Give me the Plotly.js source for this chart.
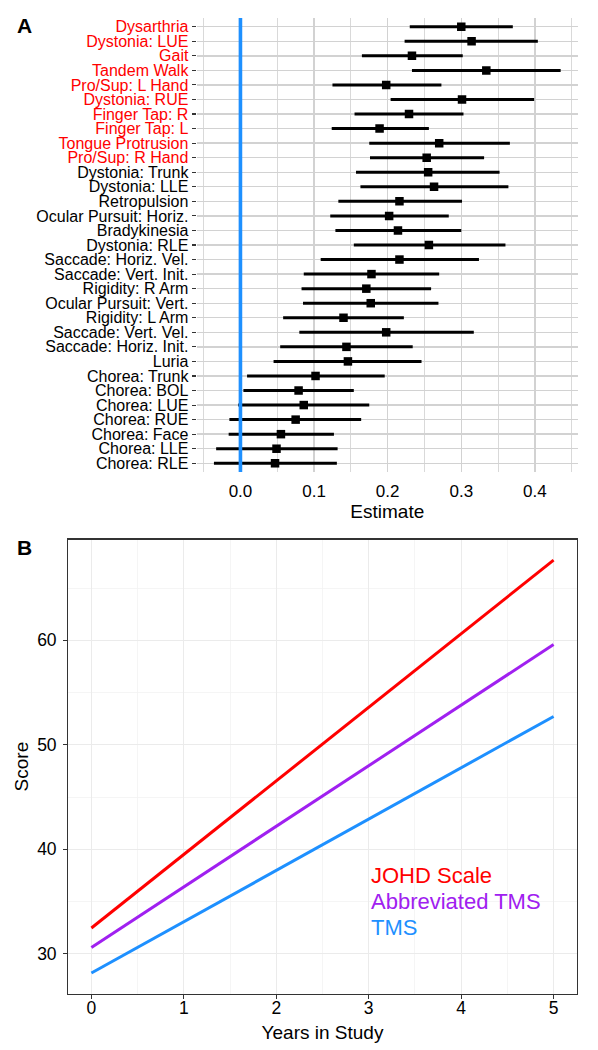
<!DOCTYPE html>
<html>
<head>
<meta charset="utf-8">
<script src="https://cdn.plot.ly/plotly-3.0.1.min.js"></script>
<style>
  html, body { margin: 0; padding: 0; background: #fff; }
  #chart { width: 598px; height: 1050px; }
</style>
</head>
<body>
<div id="chart"></div>
<script>
// ---------- Panel A data ----------
const items = [
  "Dysarthria", "Dystonia: LUE", "Gait", "Tandem Walk", "Pro/Sup: L Hand",
  "Dystonia: RUE", "Finger Tap: R", "Finger Tap: L", "Tongue Protrusion", "Pro/Sup: R Hand",
  "Dystonia: Trunk", "Dystonia: LLE", "Retropulsion", "Ocular Pursuit: Horiz.", "Bradykinesia",
  "Dystonia: RLE", "Saccade: Horiz. Vel.", "Saccade: Vert. Init.", "Rigidity: R Arm", "Ocular Pursuit: Vert.",
  "Rigidity: L Arm", "Saccade: Vert. Vel.", "Saccade: Horiz. Init.", "Luria", "Chorea: Trunk",
  "Chorea: BOL", "Chorea: LUE", "Chorea: RUE", "Chorea: Face", "Chorea: LLE", "Chorea: RLE"
];
const estimate = [
  0.300, 0.314, 0.233, 0.334, 0.198,
  0.301, 0.229, 0.189, 0.270, 0.253,
  0.255, 0.263, 0.216, 0.202, 0.214,
  0.256, 0.216, 0.178, 0.171, 0.177,
  0.140, 0.198, 0.144, 0.146, 0.102,
  0.079, 0.086, 0.075, 0.055, 0.049, 0.047
];
const lower = [
  0.230, 0.223, 0.165, 0.233, 0.125,
  0.204, 0.155, 0.124, 0.175, 0.176,
  0.157, 0.163, 0.133, 0.122, 0.129,
  0.154, 0.109, 0.086, 0.083, 0.085,
  0.058, 0.080, 0.054, 0.045, 0.009,
  0.004, -0.003, -0.015, -0.016, -0.033, -0.036
];
const upper = [
  0.370, 0.404, 0.302, 0.435, 0.273,
  0.399, 0.303, 0.256, 0.366, 0.331,
  0.352, 0.364, 0.301, 0.283, 0.300,
  0.360, 0.324, 0.270, 0.259, 0.269,
  0.222, 0.317, 0.234, 0.246, 0.196,
  0.154, 0.175, 0.164, 0.127, 0.132, 0.131
];
const highlighted = [
  true, true, true, true, true,
  true, true, true, true, true,
  false, false, false, false, false,
  false, false, false, false, false,
  false, false, false, false, false,
  false, false, false, false, false, false
];
const referenceValue = 0;
const estimateTicks = [0, 0.1, 0.2, 0.3, 0.4];

// ---------- Panel B data ----------
const years = [0, 5];
const seriesNames = ["JOHD Scale", "Abbreviated TMS", "TMS"];
const johdScore = [32.46, 67.67];
const abbrevTmsScore = [30.60, 59.59];
const tmsScore = [28.15, 52.71];
const scoreTicks = [30, 40, 50, 60];
const yearTicks = [0, 1, 2, 3, 4, 5];

// ---------- styling ----------
const FONT = '"Liberation Sans", Arial, Helvetica, sans-serif';
const RED = '#FF0000', PURPLE = '#A020F0', BLUE = '#1E90FF';
const W = 598, H = 1050;

const ticktextA = items.map((t, i) =>
  highlighted[i] ? '<span style="color:' + RED + '">' + t + '</span>' : t);

const lo = Math.min(...lower), hi = Math.max(...upper);
const padA = (hi - lo) * 0.05;

const traceA = {
  type: 'scatter', mode: 'markers',
  x: estimate, y: items,
  xaxis: 'x', yaxis: 'y',
  marker: { symbol: 'square', size: 8.5, color: '#000' },
  error_x: {
    type: 'data', symmetric: false,
    array: upper.map((u, i) => u - estimate[i]),
    arrayminus: estimate.map((e, i) => e - lower[i]),
    color: '#000', thickness: 3, width: 0
  },
  showlegend: false, hoverinfo: 'x+y'
};

const scoreSeries = [johdScore, abbrevTmsScore, tmsScore];
const colorsB = [RED, PURPLE, BLUE];
const tracesB = scoreSeries.map((s, i) => ({
  type: 'scatter', mode: 'lines',
  x: years, y: s, xaxis: 'x2', yaxis: 'y2',
  name: seriesNames[i],
  line: { color: colorsB[i], width: 3 },
  showlegend: false
}));

const allB = [].concat(...scoreSeries);
const loB = Math.min(...allB), hiB = Math.max(...allB);
const padB = (hiB - loB) * 0.05;

const layout = {
  width: W, height: H,
  margin: { l: 0, r: 0, t: 0, b: 0 },
  paper_bgcolor: '#fff', plot_bgcolor: '#fff',
  font: { family: FONT, color: '#000' },
  showlegend: false,
  xaxis: {
    domain: [196.6 / W, 578 / W],
    anchor: 'y',
    range: [lo - padA, hi + padA],
    tickvals: estimateTicks, tickformat: '.1f',
    ticks: '', showline: false, zeroline: false,
    ticklabelstandoff: 7,
    showgrid: true, gridcolor: '#d2d2d2', gridwidth: 1.4,
    minor: { dtick: 0.05, tick0: 0, showgrid: true, gridcolor: '#d9d9d9', gridwidth: 1.1, ticks: '' },
    tickfont: { size: 17, color: '#000' },
    title: { text: 'Estimate', font: { size: 19, color: '#000' }, standoff: 3 }
  },
  yaxis: {
    domain: [1 - 472 / H, 1 - 18 / H],
    anchor: 'x',
    type: 'category',
    categoryorder: 'array', categoryarray: items.slice().reverse(),
    range: [-0.6, items.length - 0.4],
    tickvals: items, ticktext: ticktextA,
    ticks: 'outside', ticklen: 4, tickwidth: 1.1, tickcolor: '#333',
    showline: false, zeroline: false,
    showgrid: true, gridcolor: '#d2d2d2', gridwidth: 1.4,
    tickfont: { size: 16, color: '#000' }
  },
  xaxis2: {
    domain: [68.3 / W, 576.7 / W],
    anchor: 'y2',
    range: [-0.25, 5.25],
    tickvals: yearTicks,
    ticks: 'outside', ticklen: 4, tickwidth: 1.1, tickcolor: '#333',
    ticklabelstandoff: -6,
    showline: true, mirror: true, linecolor: '#333', linewidth: 1.2,
    zeroline: false,
    showgrid: true, gridcolor: '#ebebeb', gridwidth: 1.2,
    minor: { dtick: 0.5, tick0: 0, showgrid: true, gridcolor: '#f2f2f2', gridwidth: 0.8, ticks: '' },
    tickfont: { size: 17.5, color: '#000' },
    title: { text: 'Years in Study', font: { size: 19, color: '#000' }, standoff: 8 }
  },
  yaxis2: {
    domain: [1 - 993.7 / H, 1 - 539.5 / H],
    anchor: 'x2',
    range: [loB - padB, hiB + padB],
    tickvals: scoreTicks,
    ticks: 'outside', ticklen: 4, tickwidth: 1.1, tickcolor: '#333',
    ticklabelstandoff: 3,
    showline: true, mirror: true, linecolor: '#333', linewidth: 1.2,
    zeroline: false,
    showgrid: true, gridcolor: '#ebebeb', gridwidth: 1.2,
    minor: { dtick: 5, tick0: 0, showgrid: true, gridcolor: '#f2f2f2', gridwidth: 0.8, ticks: '' },
    tickfont: { size: 17.5, color: '#000' },
    title: { text: 'Score', font: { size: 19, color: '#000' }, standoff: 3 }
  },
  shapes: [{
    type: 'line', xref: 'x', yref: 'y domain',
    x0: referenceValue, x1: referenceValue, y0: 0, y1: 1,
    line: { color: BLUE, width: 3.6 }, layer: 'above'
  }],
  annotations: [
    { text: '<b>A</b>', xref: 'paper', yref: 'paper', x: 15 / W, y: 1 - 25.5 / H,
      xanchor: 'left', yanchor: 'middle', showarrow: false, font: { size: 21, color: '#000' } },
    { text: '<b>B</b>', xref: 'paper', yref: 'paper', x: 15 / W, y: 1 - 547.5 / H,
      xanchor: 'left', yanchor: 'middle', showarrow: false, font: { size: 21, color: '#000' } },
    { text: seriesNames[0], xref: 'x2', yref: 'y2', x: 3, y: 37.5, xanchor: 'left', yanchor: 'middle',
      showarrow: false, font: { size: 22, color: RED } },
    { text: seriesNames[1], xref: 'x2', yref: 'y2', x: 3, y: 35, xanchor: 'left', yanchor: 'middle',
      showarrow: false, font: { size: 22, color: PURPLE } },
    { text: seriesNames[2], xref: 'x2', yref: 'y2', x: 3, y: 32.5, xanchor: 'left', yanchor: 'middle',
      showarrow: false, font: { size: 22, color: BLUE } }
  ]
};

Plotly.newPlot('chart', [traceA].concat(tracesB), layout, { staticPlot: true, displayModeBar: false });
</script>
</body>
</html>
